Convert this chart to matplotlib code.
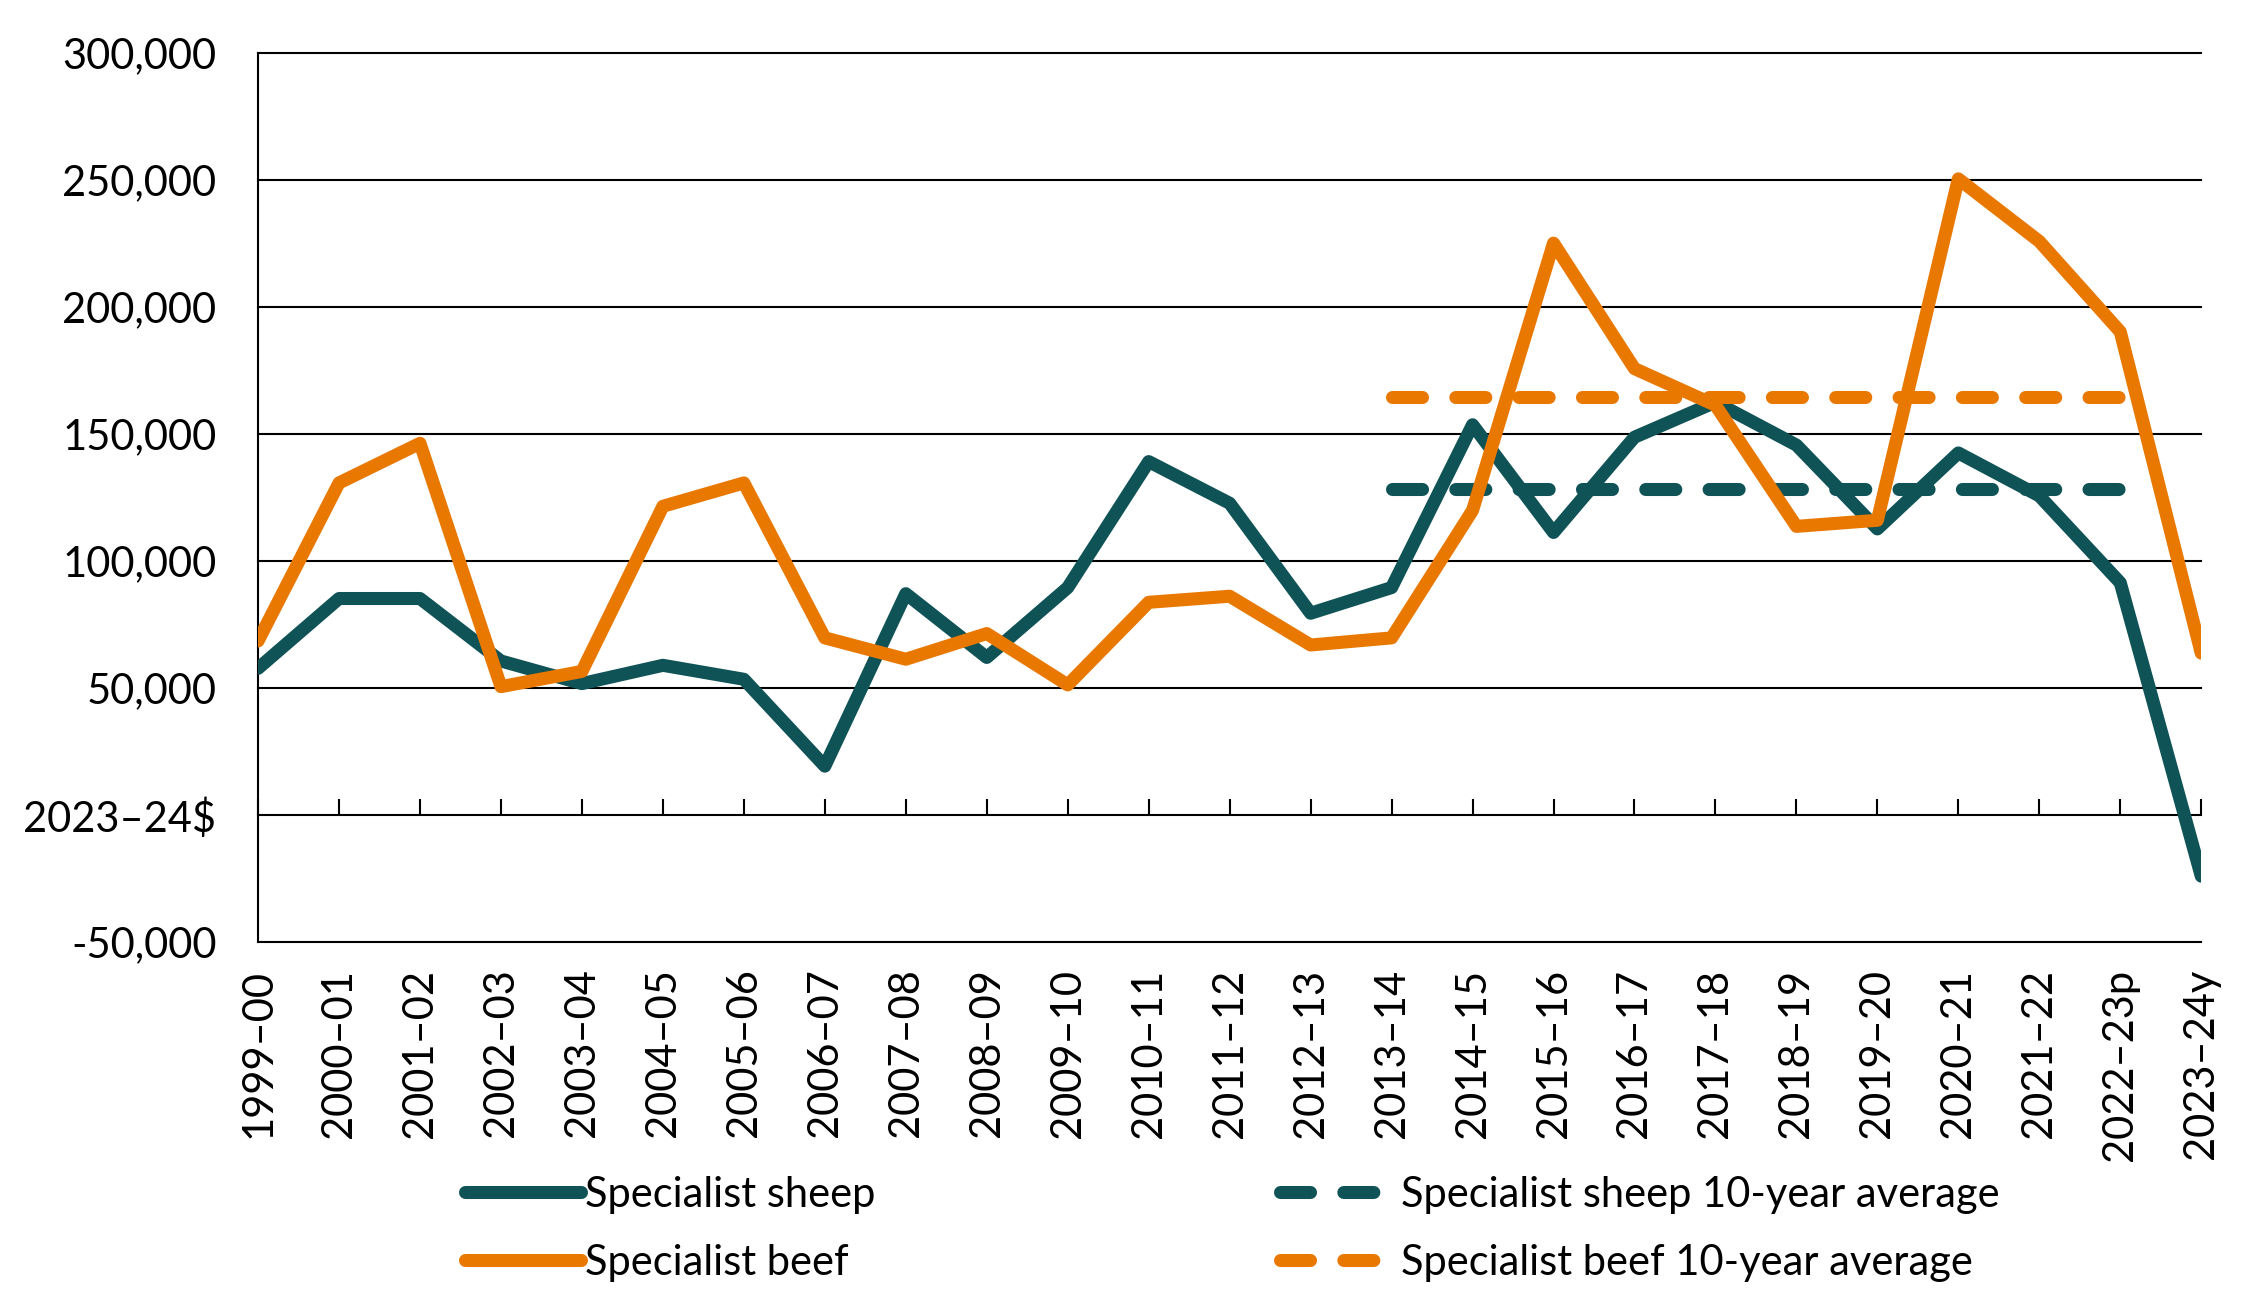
import matplotlib
matplotlib.use("agg")
from matplotlib import pyplot as plt
from matplotlib.ticker import FuncFormatter

plt.rcParams["font.family"] = ["Lato", "DejaVu Sans"]

# Farm business profit, specialist sheep vs specialist beef (2023-24$)
years = ["1999–00", "2000–01", "2001–02", "2002–03", "2003–04", "2004–05",
         "2005–06", "2006–07", "2007–08", "2008–09", "2009–10", "2010–11",
         "2011–12", "2012–13", "2013–14", "2014–15", "2015–16", "2016–17",
         "2017–18", "2018–19", "2019–20", "2020–21", "2021–22", "2022–23p",
         "2023–24y"]

sheep = [57800, 85300, 85300, 60700, 51800, 59000, 53500, 19300, 87200,
         62100, 89600, 139200, 122800, 79500, 89600, 153700, 111300, 148800,
         162600, 145700, 112700, 142600, 125700, 91500, -24000]

beef = [68600, 130800, 146400, 50600, 56600, 121600, 130800, 69800, 61400,
        71500, 51300, 83800, 86200, 67000, 69800, 120000, 225200, 175800,
        161400, 113700, 116100, 250500, 225900, 190300, 63800]

# 10-year averages span 2013-14 to 2022-23p
avg_years = years[14:24]
sheep_avg = [128400] * len(avg_years)
beef_avg = [164500] * len(avg_years)

y_ticks = [-50000, 0, 50000, 100000, 150000, 200000, 250000, 300000]

teal = "#0F5357"
orange = "#E97800"
fs = 15

fig = plt.figure(figsize=(11.24, 6.48), dpi=200)
ax = fig.add_axes([0.1148, 0.273, 0.8644, 0.686])

x = list(range(len(years)))
x_avg = [years.index(y) for y in avg_years]

lw = 4.7
ax.plot(x, sheep, color=teal, lw=lw, solid_joinstyle="round",
        solid_capstyle="round", label="Specialist sheep", zorder=3)
ax.plot(x_avg, sheep_avg, color=teal, lw=lw, dashes=(2.3, 2.55),
        dash_capstyle="round", label="Specialist sheep 10-year average", zorder=3)
ax.plot(x, beef, color=orange, lw=lw, solid_joinstyle="round",
        solid_capstyle="round", label="Specialist beef", zorder=3)
ax.plot(x_avg, beef_avg, color=orange, lw=lw, dashes=(2.3, 2.55),
        dash_capstyle="round", label="Specialist beef 10-year average", zorder=3)

ax.set_xlim(0, len(years) - 1)
ax.set_ylim(-50000, 300000)

# y axis
ax.set_yticks(y_ticks)
ax.yaxis.set_major_formatter(
    FuncFormatter(lambda v, p: "2023–24$" if v == 0 else f"{int(v):,}"))
ax.tick_params(axis="y", length=0, pad=15, labelsize=fs)
ax.yaxis.grid(True, color="black", lw=0.75, clip_on=False)
ax.set_axisbelow(True)

# x axis labels along the bottom
ax.set_xticks(x)
ax.set_xticklabels(years, rotation=90)
ax.tick_params(axis="x", length=0, pad=9.5, labelsize=fs)

for s in ["top", "right", "bottom"]:
    ax.spines[s].set_visible(False)
ax.spines["left"].set_color("black")
ax.spines["left"].set_linewidth(0.75)

# tick marks sit on the zero line
sec = ax.secondary_xaxis(1 / 7)
sec.set_alignment("bottom")
sec.set_xticks(x)
sec.set_xticklabels([""] * len(x))
sec.tick_params(axis="x", direction="in", length=5.7, width=0.75, color="black")
for s in sec.spines.values():
    s.set_visible(False)

handles, labels = ax.get_legend_handles_labels()
order = [0, 2, 1, 3]
fig.legend([handles[i] for i in order], [labels[i] for i in order],
           ncol=2, frameon=False, fontsize=fs, handlelength=2.8,
           handletextpad=0.1, columnspacing=9.7, labelspacing=0.72,
           loc="center left", bbox_to_anchor=(0.19, 0.052))

fig.savefig("out.png", dpi=200)
